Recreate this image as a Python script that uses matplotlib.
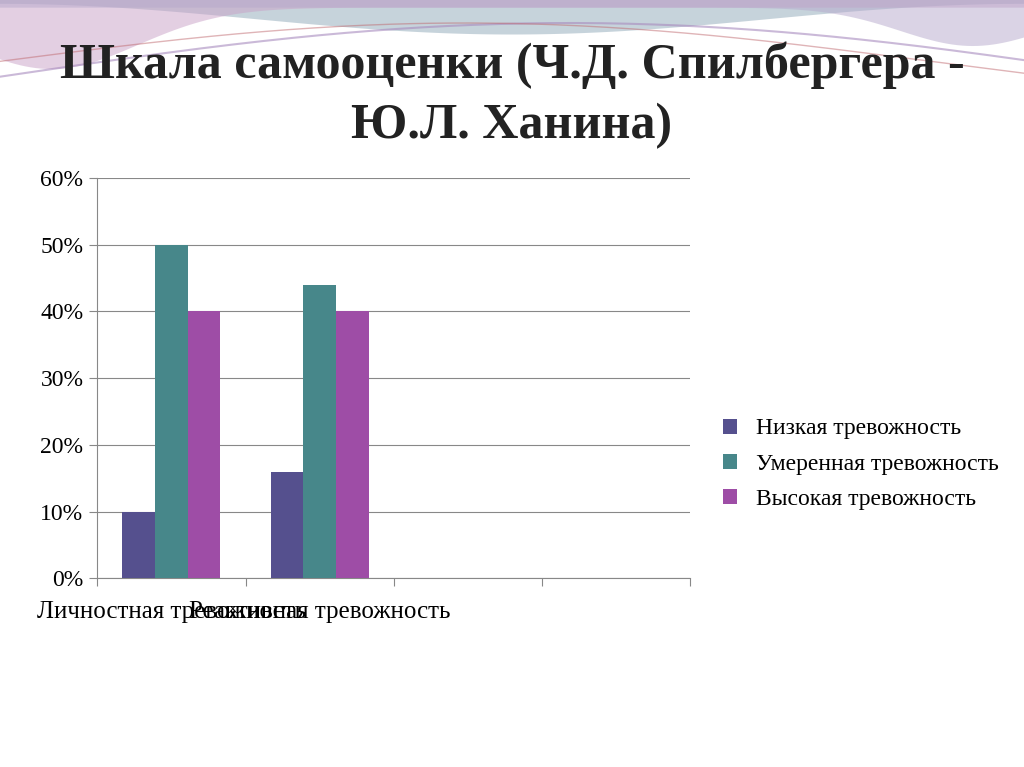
import matplotlib.pyplot as plt
import numpy as np

categories = ["Личностная тревожность", "Реактивная тревожность", "", ""]
series_names = ["Низкая тревожность", "Умеренная тревожность", "Высокая тревожность"]
low = [10, 16]
moderate = [50, 44]
high = [40, 40]
colors = ["#55508E", "#47878A", "#9E4DA6"]

fig = plt.figure(figsize=(10.24, 7.67), dpi=100)

# decorative waves at the top of the slide
deco = fig.add_axes([0, 0, 1, 1], zorder=-1)
deco.set_xlim(0, 1)
deco.set_ylim(0, 1)
deco.axis("off")
x = np.linspace(0, 1, 200)
deco.fill_between(x, 1.0, 0.975 + 0.02 * np.cos(2 * np.pi * x), color="#8FA8B8", alpha=0.5, lw=0)
deco.fill_between(x, 1.0, 0.99 - 0.08 * np.exp(-((x - 0.05) / 0.12) ** 2), color="#C9A0C7", alpha=0.5, lw=0)
deco.fill_between(x, 1.0, 0.99 - 0.05 * np.exp(-((x - 0.95) / 0.1) ** 2), color="#B6A9CC", alpha=0.5, lw=0)
deco.plot(x, 0.90 + 0.07 * np.sin(np.pi * x * 0.9), color="#A88BBE", lw=1.5, alpha=0.6)
deco.plot(x, 0.92 + 0.05 * np.sin(np.pi * x * 1.1), color="#C06A70", lw=1, alpha=0.5)

fig.text(0.5, 0.915, "Шкала самооценки (Ч.Д. Спилбергера -", ha="center", va="center",
         fontsize=36, fontweight="bold", family="Liberation Serif", color="#222222")
fig.text(0.5, 0.835, "Ю.Л. Ханина)", ha="center", va="center",
         fontsize=36, fontweight="bold", family="Liberation Serif", color="#222222")

ax = fig.add_axes([0.095, 0.246, 0.579, 0.522])
w = 0.22
pos = np.arange(len(low)) + 0.5
for i, (vals, c, n) in enumerate(zip([low, moderate, high], colors, series_names)):
    ax.bar(pos + (i - 1) * w, vals, w, color=c, label=n, zorder=3)

ax.set_xlim(0, 4)
ax.set_ylim(0, 60)
ax.set_yticks(range(0, 61, 10))
ax.set_yticklabels([f"{v}%" for v in range(0, 61, 10)], family="Liberation Serif", fontsize=17)
ax.yaxis.grid(True, color="#888888", lw=0.8, zorder=0)
ax.set_xticks(range(0, 5))
ax.set_xticklabels([])
ax.set_xticks(np.arange(4) + 0.5, minor=True)
ax.set_xticklabels(categories, minor=True, family="Liberation Serif", fontsize=18)
ax.tick_params(axis="x", which="minor", length=0, pad=16)
ax.tick_params(axis="x", which="major", length=6, color="#888888")
ax.tick_params(axis="y", length=6, color="#888888", pad=4)
for s in ["top", "right"]:
    ax.spines[s].set_visible(False)
for s in ["left", "bottom"]:
    ax.spines[s].set_color("#888888")

fig.legend(loc="center left", bbox_to_anchor=(0.685, 0.395), frameon=False,
           prop={"family": "Liberation Serif", "size": 17}, handlelength=0.6,
           handleheight=0.6, labelspacing=0.6, handletextpad=0.8)

fig.savefig("out.png", dpi=100)
